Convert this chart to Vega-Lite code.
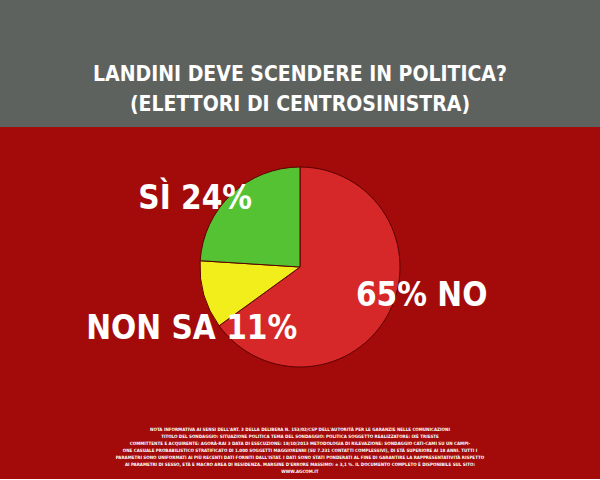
{
  "$schema": "https://vega.github.io/schema/vega-lite/v6.json",
  "background": "#5e625f",
  "padding": {"top": 64, "left": 0, "right": 0, "bottom": 0},
  "title": {
    "text": ["LANDINI DEVE SCENDERE IN POLITICA?", "(ELETTORI DI CENTROSINISTRA)"],
    "anchor": "middle",
    "frame": "group",
    "font": "DejaVu Sans Condensed, sans-serif",
    "fontSize": 21,
    "fontWeight": "bold",
    "color": "#ffffff",
    "lineHeight": 30,
    "offset": 12,
    "baseline": "top"
  },
  "spacing": 0,
  "config": {"view": {"fill": "#a30b0b", "stroke": null}, "concat": {"spacing": 0}},
  "vconcat": [
    {
      "width": 600,
      "height": 280,
      "view": {"fill": "#a30b0b", "stroke": null},
      "data": {
        "values": [
          {"risposta": "NO", "pct": 65, "label": "65% NO"},
          {"risposta": "NON SA", "pct": 11, "label": "NON SA 11%"},
          {"risposta": "SÌ", "pct": 24, "label": "SÌ 24%"}
        ]
      },
      "resolve": {"scale": {"theta": "independent"}},
      "layer": [
        {
          "mark": {"type": "arc", "outerRadius": 100, "stroke": "#5a0000", "strokeWidth": 1},
          "encoding": {
            "theta": {"field": "pct", "type": "quantitative", "stack": true},
            "color": {
              "field": "risposta",
              "type": "nominal",
              "sort": ["NO", "NON SA", "SÌ"],
              "scale": {"domain": ["NO", "NON SA", "SÌ"], "range": ["#d62828", "#f2ee1c", "#54c232"]},
              "legend": null
            }
          }
        },
        {
          "mark": {"type": "text", "radius": 125, "font": "DejaVu Sans Condensed, sans-serif", "fontSize": 33, "fontWeight": "bold", "color": "#ffffff"},
          "encoding": {
            "theta": {"field": "pct", "type": "quantitative", "stack": true, "scale": {"range": [-0.24, 6.043]}},
            "detail": {"field": "risposta", "type": "nominal"},
            "text": {"field": "label", "type": "nominal"}
          }
        }
      ]
    },
    {
      "width": 600,
      "height": 72,
      "view": {"fill": "#a30b0b", "stroke": null},
      "data": {
        "values": [
          {"note": "NOTA INFORMATIVA AI SENSI DELL'ART. 3 DELLA DELIBERA N. 153/02/CSP DELL'AUTORITÀ PER LE GARANZIE NELLE COMUNICAZIONI\nTITOLO DEL SONDAGGIO: SITUAZIONE POLITICA  TEMA DEL SONDAGGIO: POLITICA  SOGGETTO REALIZZATORE: IXÈ TRIESTE\nCOMMITTENTE E ACQUIRENTE: AGORÀ-RAI 3  DATA DI ESECUZIONE: 18/10/2013  METODOLOGIA DI RILEVAZIONE: SONDAGGIO CATI-CAMI SU UN CAMPI-\nONE CASUALE PROBABILISTICO STRATIFICATO DI 1.000 SOGGETTI MAGGIORENNI (SU 7.231 CONTATTI COMPLESSIVI), DI ETÀ SUPERIORE AI 18 ANNI. TUTTI I\nPARAMETRI SONO UNIFORMATI AI PIÙ RECENTI DATI FORNITI DALL'ISTAT. I DATI SONO STATI PONDERATI AL FINE DI GARANTIRE LA RAPPRESENTATIVITÀ RISPETTO\nAI PARAMETRI DI SESSO, ETÀ E MACRO AREA DI RESIDENZA. MARGINE D'ERRORE MASSIMO: ± 3,1 %. IL DOCUMENTO COMPLETO È DISPONIBILE SUL SITO:\nWWW.AGCOM.IT"}
        ]
      },
      "mark": {"type": "text", "lineBreak": "\n", "font": "DejaVu Sans Condensed, sans-serif", "fontSize": 4.5, "lineHeight": 7, "fontWeight": "bold", "color": "#ffffff", "dy": -13},
      "encoding": {"text": {"field": "note", "type": "nominal"}}
    }
  ]
}
